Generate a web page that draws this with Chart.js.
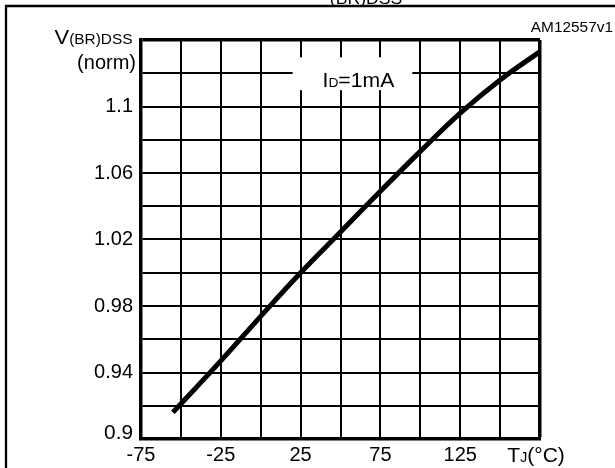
<!DOCTYPE html>
<html>
<head>
<meta charset="utf-8">
<script src="https://cdn.jsdelivr.net/npm/chart.js@4/dist/chart.umd.min.js"></script>
<style>
  html, body { margin: 0; padding: 0; background: #fff; }
  canvas { display: block; }
</style>
</head>
<body>
<canvas id="c" width="615" height="468"></canvas>
<script>
// Normalized breakdown voltage vs junction temperature (ID = 1 mA)
const junctionTemp = [-55, -25, 0, 25, 50, 75, 100, 125, 150, 175];
const vbrNorm      = [0.916, 0.9470, 0.9738, 1.000, 1.0245, 1.0490, 1.0730, 1.0960, 1.1160, 1.1330];

// Labelled tick positions
const xTickValues = [-75, -25, 25, 75, 125];
const yTickValues = [0.94, 0.98, 1.02, 1.06, 1.1];
const yBottomLabel = '0.9';

const FONT = '"Liberation Sans", Arial, Helvetica, sans-serif';

function stretchText(ctx, s, x, y, size, align, sx) {
  ctx.save();
  ctx.font = size + 'px ' + FONT;
  ctx.textAlign = align;
  ctx.textBaseline = 'alphabetic';
  ctx.translate(x, y);
  ctx.scale(sx, 1);
  ctx.fillText(s, 0, 0);
  ctx.restore();
}

// Draws a run of text pieces (main text and subscripts) from x
function compoundText(ctx, parts, x, y, sx) {
  let cx = x;
  parts.forEach(p => {
    ctx.save();
    ctx.font = p.size + 'px ' + FONT;
    const w = ctx.measureText(p.t).width * sx;
    ctx.restore();
    stretchText(ctx, p.t, cx, y + (p.dy || 0), p.size, 'left', sx);
    cx += w;
  });
  return cx - x;
}
function compoundWidth(ctx, parts, sx) {
  let w = 0;
  parts.forEach(p => {
    ctx.save();
    ctx.font = p.size + 'px ' + FONT;
    w += ctx.measureText(p.t).width * sx;
    ctx.restore();
  });
  return w;
}

const decorations = {
  id: 'decorations',
  beforeDraw(chart) {
    const ctx = chart.ctx;
    ctx.save();
    ctx.fillStyle = '#fff';
    ctx.fillRect(0, 0, chart.width, chart.height);
    ctx.restore();
  },
  beforeDatasetsDraw(chart) {
    const ctx = chart.ctx;
    const xs = chart.scales.x, ys = chart.scales.y;
    // condition label box
    const l = xs.getPixelForValue(20), r = xs.getPixelForValue(95);
    const t = ys.getPixelForValue(1.1296), b = ys.getPixelForValue(1.1098);
    ctx.save();
    ctx.fillStyle = '#fff';
    ctx.fillRect(l, t, r - l, b - t);
    ctx.fillStyle = '#000';
    compoundText(ctx, [
      { t: 'I', size: 20 },
      { t: 'D', size: 13 },
      { t: '=1mA', size: 20 }
    ], 322.5, 86.5, 1.06);
    ctx.restore();
  },
  afterDraw(chart) {
    const ctx = chart.ctx;
    const xs = chart.scales.x, ys = chart.scales.y;
    ctx.save();
    // outer frame
    ctx.strokeStyle = '#000';
    ctx.lineWidth = 2.3;
    ctx.beginPath();
    ctx.moveTo(6, chart.height + 2);
    ctx.lineTo(6, 6);
    ctx.lineTo(chart.width + 2, 6);
    ctx.stroke();

    ctx.fillStyle = '#000';
    // partially visible heading above the frame
    stretchText(ctx, '(BR)DSS', 366, 4, 16, 'center', 1.1);
    // drawing code
    stretchText(ctx, 'AM12557v1', 613, 31.5, 14, 'right', 1.1);

    // y axis title
    const vParts = [{ t: 'V', size: 20 }, { t: '(BR)DSS', size: 14, dy: 0.5 }];
    const vw = compoundWidth(ctx, vParts, 1.1);
    compoundText(ctx, vParts, 132.5 - vw, 43.5, 1.1);
    stretchText(ctx, '(norm)', 136, 69, 20, 'right', 1.0);

    // bottom y label sits on the axis
    stretchText(ctx, yBottomLabel, 133, ys.getPixelForValue(0.9) - 0.5, 20, 'right', 1.04);

    // x axis title at the last grid position
    const tParts = [{ t: 'T', size: 20 }, { t: 'J', size: 14 }, { t: '(°C)', size: 20 }];
    const tw = compoundWidth(ctx, tParts, 1.05);
    compoundText(ctx, tParts, xs.getPixelForValue(175) - 4 - tw / 2, 462, 1.05);
    ctx.restore();
  }
};

const near = (a, b) => Math.abs(a - b) < 1e-6;

new Chart(document.getElementById('c'), {
  type: 'line',
  data: {
    datasets: [{
      data: junctionTemp.map((t, i) => ({ x: t, y: vbrNorm[i] })),
      borderColor: '#000',
      borderWidth: 5,
      pointRadius: 0,
      fill: false,
      tension: 0.4,
      borderCapStyle: 'butt'
    }]
  },
  options: {
    responsive: false,
    animation: false,
    devicePixelRatio: 1,
    layout: { padding: { left: 0, right: 75, top: 40, bottom: 0 } },
    plugins: { legend: { display: false }, tooltip: { enabled: false }, title: { display: false } },
    scales: {
      x: {
        type: 'linear',
        min: -75, max: 175,
        afterFit(scale) { scale.height = 29; },
        border: { display: true, color: '#000', width: 3.5 },
        grid: {
          color: '#000',
          drawTicks: false,
          lineWidth: c => (c.tick && near(c.tick.value, 175)) ? 3.5 : 2
        },
        ticks: {
          stepSize: 25,
          autoSkip: false,
          maxRotation: 0,
          padding: 4,
          color: '#000',
          font: { family: FONT, size: 20 },
          callback: v => xTickValues.some(t => near(t, v)) ? String(v) : ''
        }
      },
      y: {
        type: 'linear',
        min: 0.9, max: 1.14,
        afterFit(scale) { scale.width = 141; },
        border: { display: true, color: '#000', width: 3.5 },
        grid: {
          color: '#000',
          drawTicks: false,
          lineWidth: c => (c.tick && near(c.tick.value, 1.14)) ? 3.5 : 2
        },
        ticks: {
          stepSize: 0.02,
          autoSkip: false,
          padding: 8,
          color: '#000',
          font: { family: FONT, size: 20 },
          callback: v => {
            const hit = yTickValues.find(t => Math.abs(t - v) < 1e-6);
            return hit !== undefined ? String(hit) : '';
          }
        }
      }
    }
  },
  plugins: [decorations]
});
</script>
</body>
</html>
